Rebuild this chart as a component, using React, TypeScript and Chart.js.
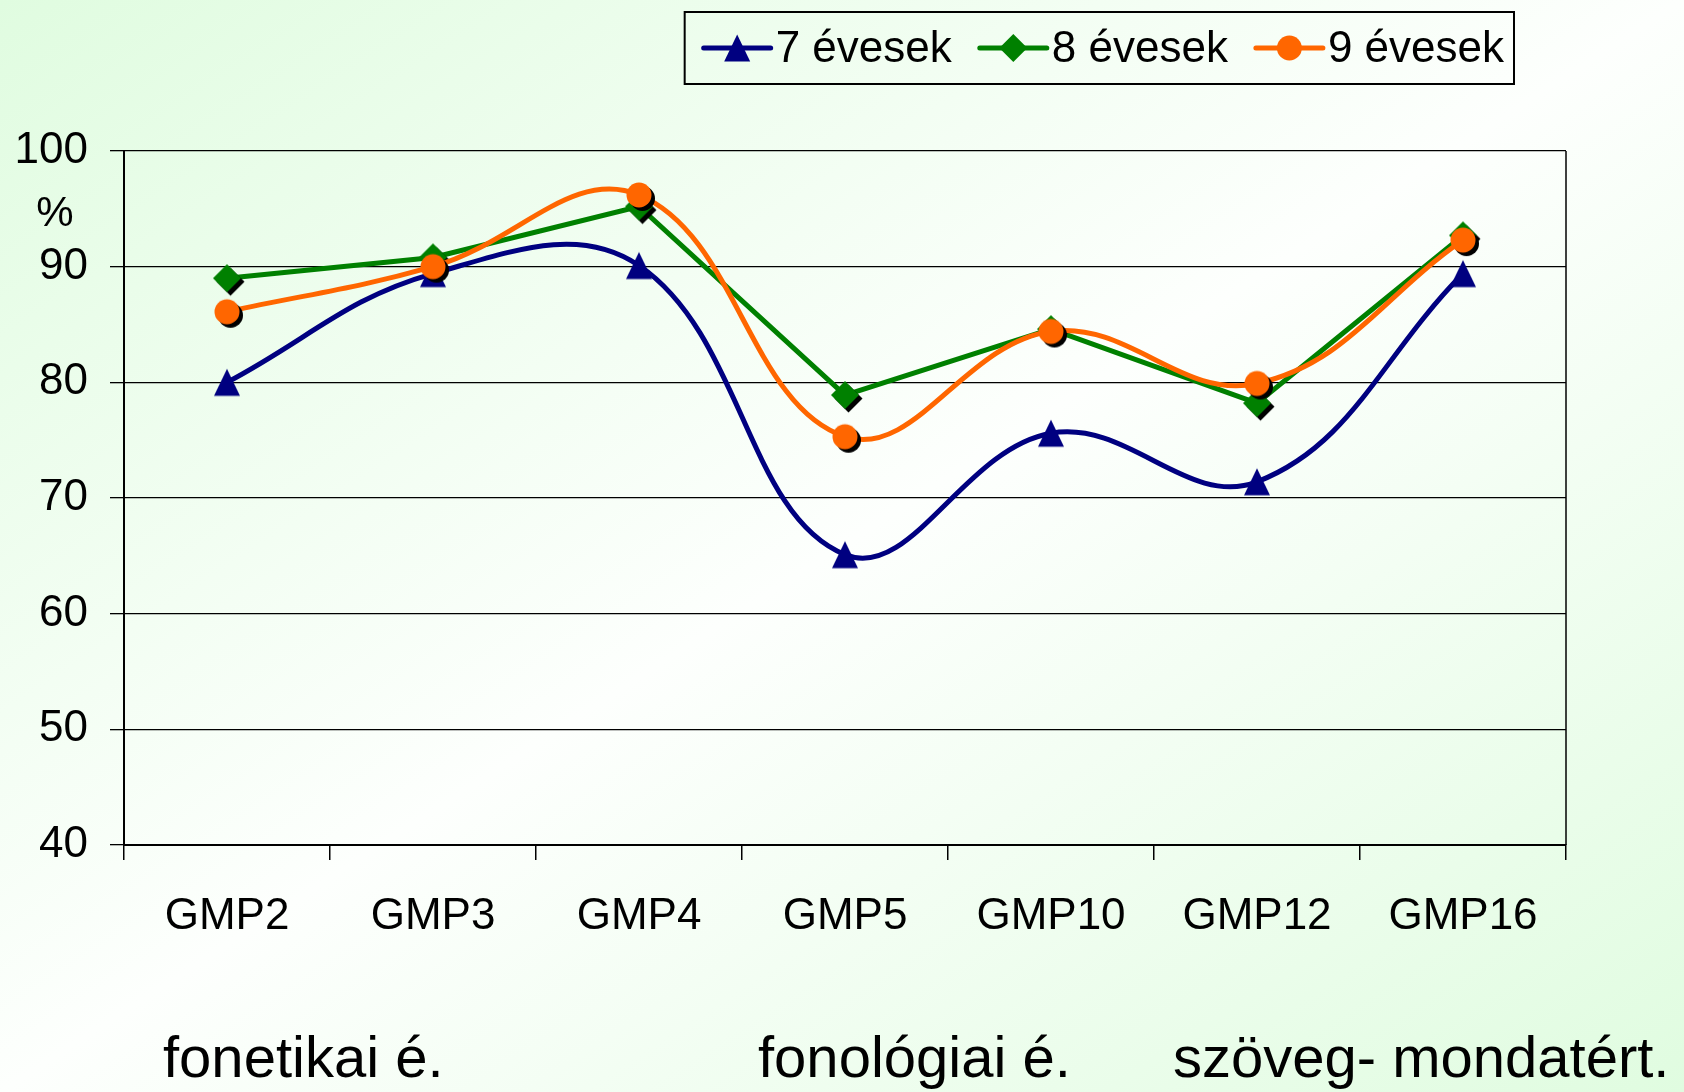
import React, { useEffect, useRef } from "react";
import { Chart, registerables } from "chart.js";

Chart.register(...registerables);

// ---- data ----
const categories = ["GMP2", "GMP3", "GMP4", "GMP5", "GMP10", "GMP12", "GMP16"];
const seriesNames = ["7 évesek", "8 évesek", "9 évesek"];
const values7 = [80.0, 89.4, 90.1, 65.1, 75.6, 71.4, 89.4];
const values8 = [89.0, 90.8, 95.2, 78.9, 84.6, 78.2, 92.7];
const values9 = [86.1, 90.0, 96.2, 75.3, 84.4, 79.9, 92.3];
const yMin = 40;
const yMax = 100;
const yStep = 10;
const unitLabel = "%";
const groupLabels = ["fonetikai é.", "fonológiai é.", "szöveg- mondatért."];

// ---- styles ----
const FONT = "'Liberation Sans', Arial, Helvetica, sans-serif";
const COLORS = ["#000080", "#008000", "#FF6600"];
const SHAPES = ["triangle", "diamond", "circle"];
const SHADOWS = [false, true, true];

function drawShape(ctx: CanvasRenderingContext2D, shape: string, cx: number, cy: number, color: string) {
  ctx.fillStyle = color;
  ctx.beginPath();
  if (shape === "triangle") {
    ctx.moveTo(cx, cy - 13.5);
    ctx.lineTo(cx + 13, cy + 13.5);
    ctx.lineTo(cx - 13, cy + 13.5);
    ctx.closePath();
  } else if (shape === "diamond") {
    ctx.moveTo(cx, cy - 14);
    ctx.lineTo(cx + 14, cy);
    ctx.lineTo(cx, cy + 14);
    ctx.lineTo(cx - 14, cy);
    ctx.closePath();
  } else {
    ctx.arc(cx, cy, 12.5, 0, Math.PI * 2);
  }
  ctx.fill();
}

function makeMarker(shape: string, color: string, shadow: boolean): HTMLCanvasElement {
  const size = 40;
  const c = document.createElement("canvas");
  c.width = size;
  c.height = size;
  const ctx = c.getContext("2d") as CanvasRenderingContext2D;
  if (shadow) drawShape(ctx, shape, size / 2 + 3.5, size / 2 + 3.5, "#000000");
  drawShape(ctx, shape, size / 2, size / 2, color);
  return c;
}

const backgroundPlugin = {
  id: "bgGradient",
  beforeDraw(chart: any) {
    const { ctx, width: W, height: H } = chart;
    const d = Math.sqrt(W * W + H * H);
    const ux = H / d;
    const uy = W / d;
    const k = (W * H) / d;
    const cx = W / 2;
    const cy = H / 2;
    const g = ctx.createLinearGradient(cx - k * ux, cy - k * uy, cx + k * ux, cy + k * uy);
    g.addColorStop(0, "#e0fce0");
    g.addColorStop(0.5, "#fdfffd");
    g.addColorStop(1, "#e0fce0");
    ctx.save();
    ctx.fillStyle = g;
    ctx.fillRect(0, 0, W, H);
    ctx.restore();
  },
};

const framePlugin = {
  id: "frameRight",
  beforeDatasetsDraw(chart: any) {
    const { ctx, chartArea } = chart;
    ctx.save();
    ctx.strokeStyle = "#000";
    ctx.lineWidth = 1.5;
    ctx.beginPath();
    ctx.moveTo(chartArea.right, chartArea.top);
    ctx.lineTo(chartArea.right, chartArea.bottom);
    ctx.stroke();
    ctx.restore();
  },
};

const annotationPlugin = {
  id: "legendAndTexts",
  afterDraw(chart: any) {
    const { ctx, chartArea } = chart;
    ctx.save();
    // custom legend with line + marker
    ctx.font = `44px ${FONT}`;
    const datasets = chart.data.datasets;
    const lineLen = 67;
    const gap = 5;
    const itemGap = 28;
    const padL = 19;
    const padR = 10;
    const widths = datasets.map((ds: any) => ctx.measureText(ds.label).width);
    let total = padL + padR + itemGap * (datasets.length - 1);
    widths.forEach((w: number) => (total += lineLen + gap + w));
    const right = chartArea.right - 52;
    const left = right - total;
    const top = 12;
    const bottom = 84;
    const cy = (top + bottom) / 2;
    ctx.strokeStyle = "#000";
    ctx.lineWidth = 2;
    ctx.strokeRect(left, top, total, bottom - top);
    let x = left + padL;
    datasets.forEach((ds: any, i: number) => {
      ctx.strokeStyle = ds.borderColor;
      ctx.lineWidth = 5;
      ctx.lineCap = "round";
      ctx.beginPath();
      ctx.moveTo(x, cy);
      ctx.lineTo(x + lineLen, cy);
      ctx.stroke();
      drawShape(ctx, SHAPES[i], x + lineLen / 2, cy, ds.borderColor);
      ctx.fillStyle = "#000";
      ctx.textAlign = "left";
      ctx.textBaseline = "middle";
      ctx.fillText(ds.label, x + lineLen + gap, cy + 2);
      x += lineLen + gap + widths[i] + itemGap;
    });

    // unit label
    const yScale = chart.scales.y;
    ctx.fillStyle = "#000";
    ctx.font = `42px ${FONT}`;
    ctx.textAlign = "center";
    ctx.textBaseline = "middle";
    ctx.fillText(unitLabel, 55, yScale.getPixelForValue(94.5));

    // group labels under axis
    ctx.font = `58px ${FONT}`;
    ctx.textAlign = "left";
    ctx.textBaseline = "alphabetic";
    const groupX = [163, 758, 1173];
    groupLabels.forEach((t, i) => ctx.fillText(t, groupX[i], 1077));
    ctx.restore();
  },
};

export default function App() {
  const ref = useRef<HTMLCanvasElement | null>(null);

  useEffect(() => {
    if (!ref.current) return;
    const markers = SHAPES.map((s, i) => makeMarker(s, COLORS[i], SHADOWS[i]));
    const series = [values7, values8, values9];
    const tensions = [0.4, 0, 0.4];
    const orders = [3, 2, 1];
    const chart = new Chart(ref.current, {
      type: "line",
      data: {
        labels: categories,
        datasets: series.map((vals, i) => ({
          label: seriesNames[i],
          data: vals,
          borderColor: COLORS[i],
          backgroundColor: COLORS[i],
          borderWidth: 5,
          tension: tensions[i],
          pointStyle: markers[i],
          pointRadius: 13,
          pointHoverRadius: 13,
          fill: false,
          order: orders[i],
        })),
      },
      options: {
        responsive: false,
        animation: false,
        devicePixelRatio: 1,
        layout: { padding: { top: 151, right: 118, left: 0, bottom: 0 } },
        plugins: {
          legend: { display: false },
          tooltip: { enabled: false },
        },
        scales: {
          x: {
            offset: true,
            grid: {
              offset: true,
              drawOnChartArea: false,
              drawTicks: true,
              tickLength: 15,
              color: "#000",
              lineWidth: 1.5,
            },
            border: { display: true, color: "#000", width: 2 },
            ticks: {
              color: "#000",
              font: { family: FONT, size: 44 },
              padding: 30,
              maxRotation: 0,
              autoSkip: false,
            },
            afterFit: (s: any) => {
              s.height = 247;
            },
          },
          y: {
            min: yMin,
            max: yMax,
            ticks: {
              stepSize: yStep,
              color: "#000",
              font: { family: FONT, size: 44 },
              padding: 22,
            },
            grid: { color: "#000", lineWidth: 1.3, tickLength: 14 },
            border: { display: true, color: "#000", width: 2 },
            afterFit: (s: any) => {
              s.width = 124;
            },
          },
        },
      } as any,
      plugins: [backgroundPlugin, framePlugin, annotationPlugin],
    });
    return () => chart.destroy();
  }, []);

  return (
    <div style={{ position: "absolute", left: 0, top: 0, width: 1684, height: 1092 }}>
      <canvas ref={ref} width={1684} height={1092} style={{ display: "block" }} />
    </div>
  );
}
